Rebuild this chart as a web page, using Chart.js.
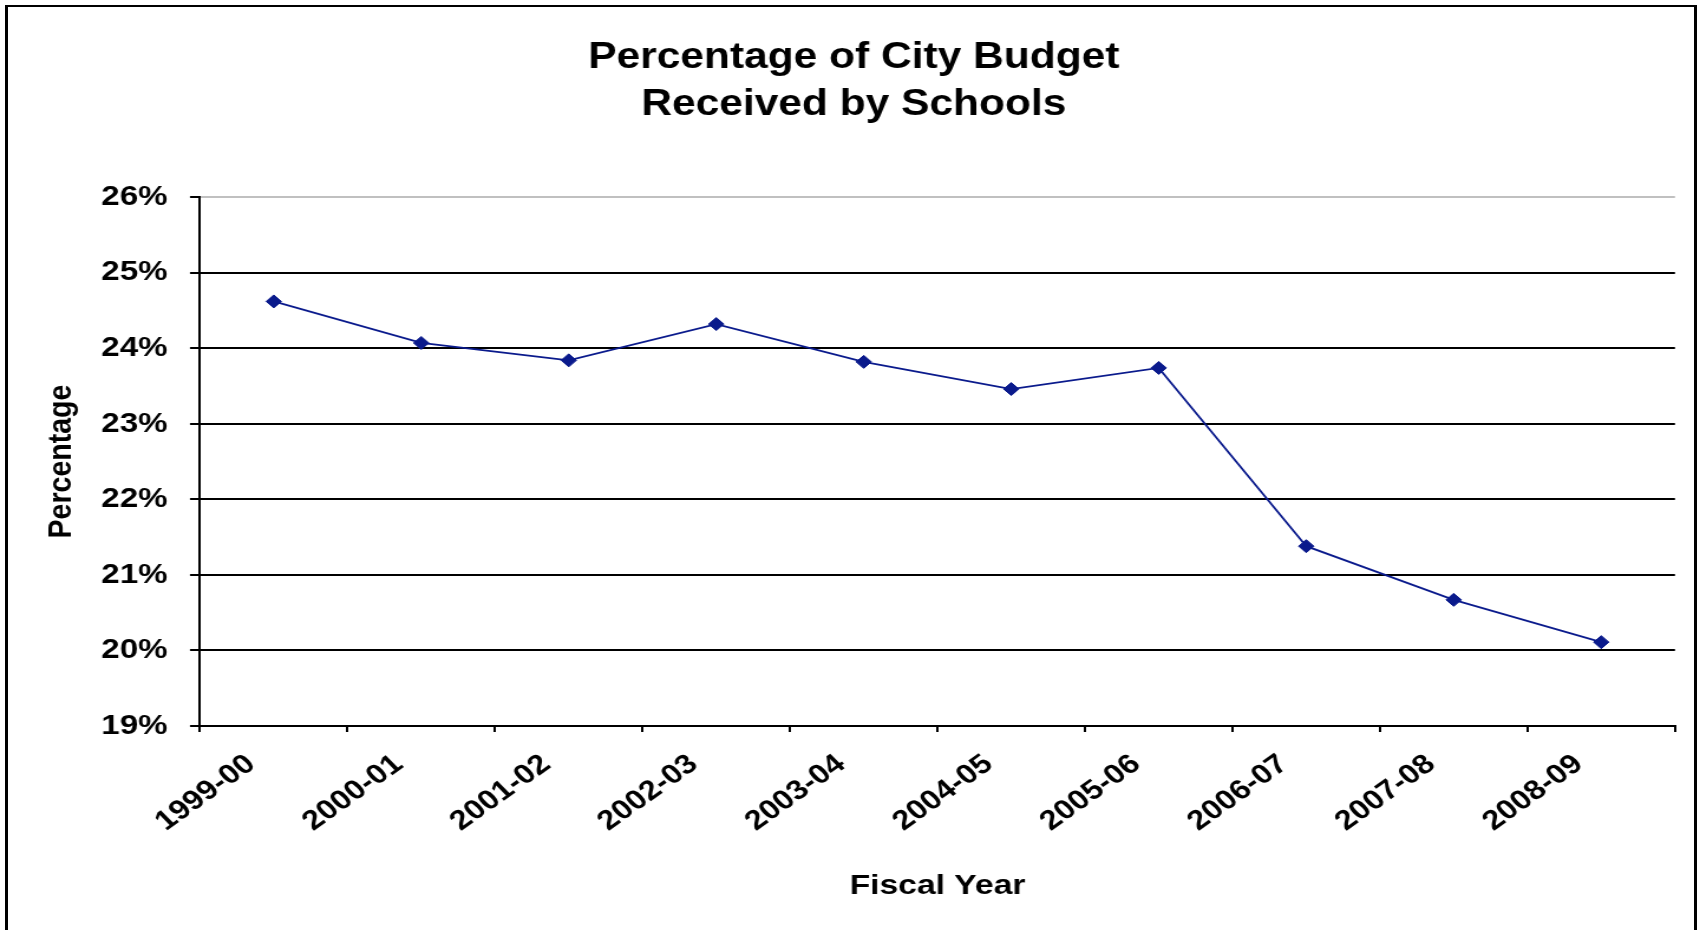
<!DOCTYPE html>
<html>
<head>
<meta charset="utf-8">
<script src="https://cdn.jsdelivr.net/npm/chart.js@4.4.1/dist/chart.umd.min.js"></script>
<style>
  html, body { margin: 0; padding: 0; background: #fff; overflow: hidden; }
  #wrap {
    position: absolute; left: 0; top: 0;
    width: 1440px; height: 930px;
    transform: scaleX(1.18056); transform-origin: 0 0;
  }
  #frame {
    position: absolute; left: 5px; top: 5px;
    width: 1686px; height: 1000px;
    border: 3px solid #000; border-top-width: 2px;
    pointer-events: none;
  }
</style>
</head>
<body>
<div id="wrap"><canvas id="chart" width="1440" height="930"></canvas></div>
<div id="frame"></div>
<script>
const years = ["1999-00", "2000-01", "2001-02", "2002-03", "2003-04",
               "2004-05", "2005-06", "2006-07", "2007-08", "2008-09"];
const schoolShare = [24.62, 24.07, 23.84, 24.32, 23.82, 23.46, 23.74, 21.38, 20.67, 20.11];
const yMin = 19;
const yMax = 26;
const titleLines = ["Percentage of City Budget", "Received by Schools"];

const FONT = "'Liberation Sans', Arial, Helvetica, sans-serif";
const navy = "#0a1a8c";

function el(id) {
  return document.getElementById(id);
}

new Chart(el("chart").getContext("2d"), {
  type: "line",
  data: {
    labels: years,
    datasets: [{
      label: "Schools",
      data: schoolShare,
      borderColor: navy,
      backgroundColor: navy,
      borderWidth: 1.8,
      pointStyle: "rectRot",
      pointRadius: 6.5,
      pointBorderWidth: 1,
      tension: 0,
    }],
  },
  options: {
    responsive: false,
    devicePixelRatio: 1,
    animation: false,
    // left padding nudges the centred title to where it sits in the original
    layout: { padding: { left: 27.6, right: 21.2, top: 0, bottom: 0 } },
    plugins: {
      legend: { display: false },
      tooltip: { enabled: false },
      title: {
        display: true,
        text: titleLines,
        color: "#000",
        font: { family: FONT, size: 36, weight: "bold", lineHeight: 1.294 },
        padding: { top: 35, bottom: 69 },
      },
    },
    scales: {
      x: {
        offset: true,
        grid: {
          offset: true,
          drawOnChartArea: false,
          color: "#000",
          lineWidth: 2,
          tickLength: 6,
        },
        border: { color: "#000", width: 2 },
        ticks: {
          autoSkip: false,
          minRotation: 40,
          maxRotation: 40,
          color: "#000",
          padding: 16,
          labelOffset: -19,
          font: { family: FONT, size: 27.5, weight: "bold" },
        },
        title: {
          display: true,
          text: "Fiscal Year",
          color: "#000",
          font: { family: FONT, size: 28.5, weight: "bold" },
          padding: { bottom: 27 },
        },
        afterFit: (s) => { s.height = 204; },
      },
      y: {
        min: yMin,
        max: yMax,
        grid: {
          color: (ctx) => (ctx.tick && ctx.tick.value === yMax ? "#c0c0c0" : "#000"),
          tickColor: "#000",
          lineWidth: 2,
          tickLength: 8.5,
        },
        border: { color: "#000", width: 2 },
        ticks: {
          stepSize: 1,
          color: "#000",
          padding: 19,
          font: { family: FONT, size: 28, weight: "bold" },
          callback: (v) => v + "%",
        },
        title: {
          display: true,
          text: "Percentage",
          color: "#000",
          font: { family: FONT, size: 28.5, weight: "bold" },
          padding: { top: 7 },
        },
        afterFit: (s) => { s.width = 169.4 - 27.6; },
      },
    },
  },
});
</script>
</body>
</html>
